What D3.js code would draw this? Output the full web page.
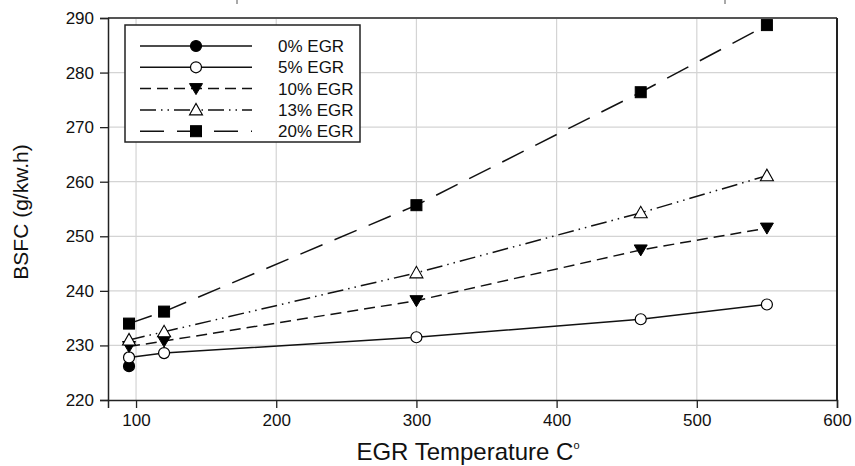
<!DOCTYPE html>
<html>
<head>
<meta charset="utf-8">
<script src="https://cdn.jsdelivr.net/npm/d3@7/dist/d3.min.js"></script>
<style>
  html, body { margin: 0; padding: 0; background: #fff; }
  svg { display: block; font-family: "Liberation Sans", Arial, sans-serif; }
</style>
</head>
<body>
<svg id="chart" width="855" height="466"></svg>
<script>
// ---- data ----
const xTicks = [100, 200, 300, 400, 500, 600];
const yTicks = [220, 230, 240, 250, 260, 270, 280, 290];
const seriesNames = ["0% EGR", "5% EGR", "10% EGR", "13% EGR", "20% EGR"];
const temp0  = [95];
const bsfc0  = [226.2];
const temps  = [95, 120, 300, 460, 550];
const bsfc5  = [227.8, 228.6, 231.5, 234.8, 237.5];
const bsfc10 = [229.8, 230.8, 238.2, 247.5, 251.5];
const bsfc13 = [231.0, 232.5, 243.3, 254.3, 261.1];
const bsfc20 = [234.0, 236.2, 255.7, 276.4, 288.7];

const series = [
  { name: seriesNames[0], xs: temp0, ys: bsfc0,  dash: null,               marker: "circle",  fill: "#000" },
  { name: seriesNames[1], xs: temps, ys: bsfc5,  dash: null,               marker: "circle",  fill: "#fff" },
  { name: seriesNames[2], xs: temps, ys: bsfc10, dash: "11,6",             marker: "tridown", fill: "#000" },
  { name: seriesNames[3], xs: temps, ys: bsfc13, dash: "16,5,1.5,5,1.5,5", marker: "triup",   fill: "#fff" },
  { name: seriesNames[4], xs: temps, ys: bsfc20, dash: "24,13",            marker: "square",  fill: "#000" }
];

const svg = d3.select("#chart");
const L = 108, R = 837, T = 18, B = 400;
const x = d3.scaleLinear().domain([80, 600]).range([L, R]);
const y = d3.scaleLinear().domain([220, 290]).range([B, T]);

// stray ticks at top (from cropped figure above)
svg.append("line").attr("x1", 237).attr("x2", 237).attr("y1", 0).attr("y2", 4).attr("stroke", "#555");
svg.append("line").attr("x1", 725).attr("x2", 725).attr("y1", 0).attr("y2", 4).attr("stroke", "#555");

// grid
const g = svg.append("g");
g.selectAll(".vg").data(xTicks.filter(d => d < 600)).enter().append("line")
  .attr("x1", d => x(d)).attr("x2", d => x(d)).attr("y1", T).attr("y2", B)
  .attr("stroke", "#d4d4d4").attr("stroke-width", 1.2);
g.selectAll(".hg").data(yTicks.filter(d => d > 220 && d < 290)).enter().append("line")
  .attr("x1", L).attr("x2", R).attr("y1", d => y(d)).attr("y2", d => y(d))
  .attr("stroke", "#d4d4d4").attr("stroke-width", 1.2);

// frame top/right
svg.append("line").attr("x1", L).attr("x2", R).attr("y1", T).attr("y2", T).attr("stroke", "#555").attr("stroke-width", 2);
svg.append("line").attr("x1", R).attr("x2", R).attr("y1", T).attr("y2", B).attr("stroke", "#222").attr("stroke-width", 2);

// axes
const xAxis = svg.append("g").attr("transform", `translate(0,${B})`)
  .call(d3.axisBottom(x).tickValues(xTicks).tickSize(8).tickPadding(6));
const yAxis = svg.append("g").attr("transform", `translate(${L},0)`)
  .call(d3.axisLeft(y).tickValues(yTicks).tickSize(8).tickPadding(6));
[xAxis, yAxis].forEach(a => {
  a.select(".domain").attr("stroke", "#222").attr("stroke-width", 1.5);
  a.selectAll(".tick line").attr("stroke", "#222").attr("stroke-width", 1.3);
  a.selectAll("text").attr("font-size", 17).attr("fill", "#111")
    .attr("font-family", "'Liberation Sans', Arial, sans-serif");
});

// axis titles
svg.append("text").attr("x", 468).attr("y", 460).attr("text-anchor", "middle")
  .attr("font-size", 24).attr("fill", "#111")
  .html('EGR Temperature C<tspan font-size="11" dy="-11">o</tspan>');
svg.append("text").attr("transform", "translate(28,212) rotate(-90)").attr("text-anchor", "middle")
  .attr("font-size", 21).attr("fill", "#111").text("BSFC (g/kw.h)");

// markers
function drawMarker(sel, type, fill, cx, cy) {
  if (type === "circle") {
    sel.append("circle").attr("cx", cx).attr("cy", cy).attr("r", 5.5)
      .attr("fill", fill).attr("stroke", "#000").attr("stroke-width", 1.2);
  } else if (type === "square") {
    sel.append("rect").attr("x", cx - 5.5).attr("y", cy - 5.5).attr("width", 11).attr("height", 11)
      .attr("fill", fill).attr("stroke", "#000").attr("stroke-width", 1);
  } else if (type === "tridown") {
    sel.append("path").attr("d", `M${cx-6.5},${cy-5} L${cx+6.5},${cy-5} L${cx},${cy+6} Z`)
      .attr("fill", fill).attr("stroke", "#000").attr("stroke-width", 1);
  } else if (type === "triup") {
    sel.append("path").attr("d", `M${cx-6.5},${cy+5} L${cx+6.5},${cy+5} L${cx},${cy-6.5} Z`)
      .attr("fill", fill).attr("stroke", "#000").attr("stroke-width", 1.1);
  }
}

const line = d3.line().x(d => x(d[0])).y(d => y(d[1]));
series.forEach(s => {
  const pts = s.xs.map((v, i) => [v, s.ys[i]]);
  const grp = svg.append("g");
  if (pts.length > 1) {
    grp.append("path").attr("d", line(pts)).attr("fill", "none")
      .attr("stroke", "#111").attr("stroke-width", 1.5)
      .attr("stroke-dasharray", s.dash);
  }
  pts.forEach(p => drawMarker(grp, s.marker, s.fill, x(p[0]), y(p[1])));
});

// legend
const lg = svg.append("g");
lg.append("rect").attr("x", 125).attr("y", 25).attr("width", 235).attr("height", 117)
  .attr("fill", "#fff").attr("stroke", "#222").attr("stroke-width", 1.5);
series.forEach((s, i) => {
  const yy = 46 + i * 21.3;
  lg.append("line").attr("x1", 140).attr("x2", 252).attr("y1", yy).attr("y2", yy)
    .attr("stroke", "#111").attr("stroke-width", 1.5).attr("stroke-dasharray", s.dash);
  drawMarker(lg, s.marker, s.fill, 196, yy);
  lg.append("text").attr("x", 278).attr("y", yy + 6).attr("font-size", 17).attr("fill", "#111").text(s.name);
});
</script>
</body>
</html>
